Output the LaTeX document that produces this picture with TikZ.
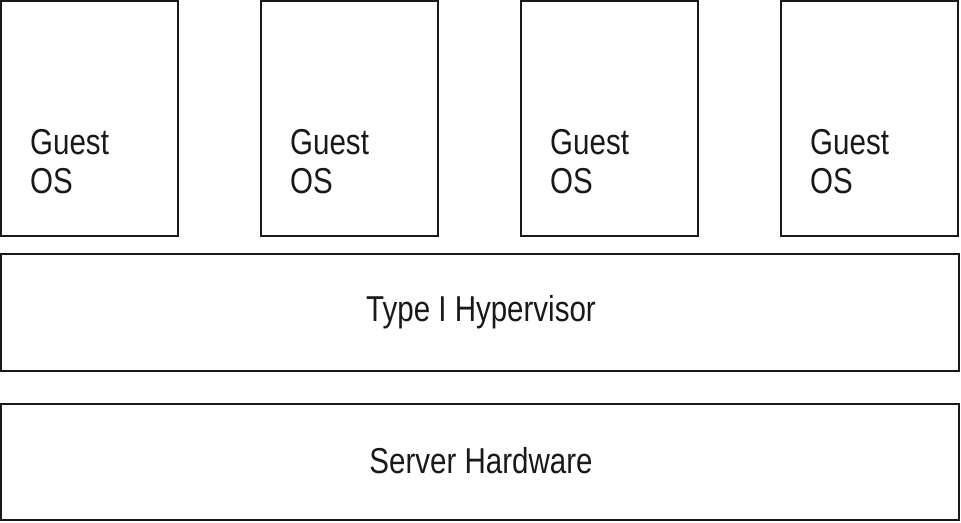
\documentclass[tikz,border=0pt]{standalone}
\usepackage{fontspec}
\setmainfont[FakeStretch=0.82]{Liberation Sans}
\begin{document}
\begin{tikzpicture}[x=1pt,y=-1pt,
  layer/.style={draw=black!90, line width=2pt},
  lbl/.style={font=\fontsize{36}{39}\selectfont, inner sep=0pt, text=black!90}]
\useasboundingbox (0,0) rectangle (961,522);
\foreach \i/\x in {1/1,2/261,3/521,4/781}{
  \draw[layer] (\x,1) rectangle (\x+177,236);
  \node[lbl, anchor=base west, align=left] (g\i) at (\x+29,193) {Guest\\OS};
}
\draw[layer] (1,254) rectangle (959,371);
\node[lbl] (hv) at (481,312) {Type I Hypervisor};
\draw[layer] (1,404) rectangle (959,520);
\node[lbl] (hw) at (481,461) {Server Hardware};
\end{tikzpicture}
\end{document}
